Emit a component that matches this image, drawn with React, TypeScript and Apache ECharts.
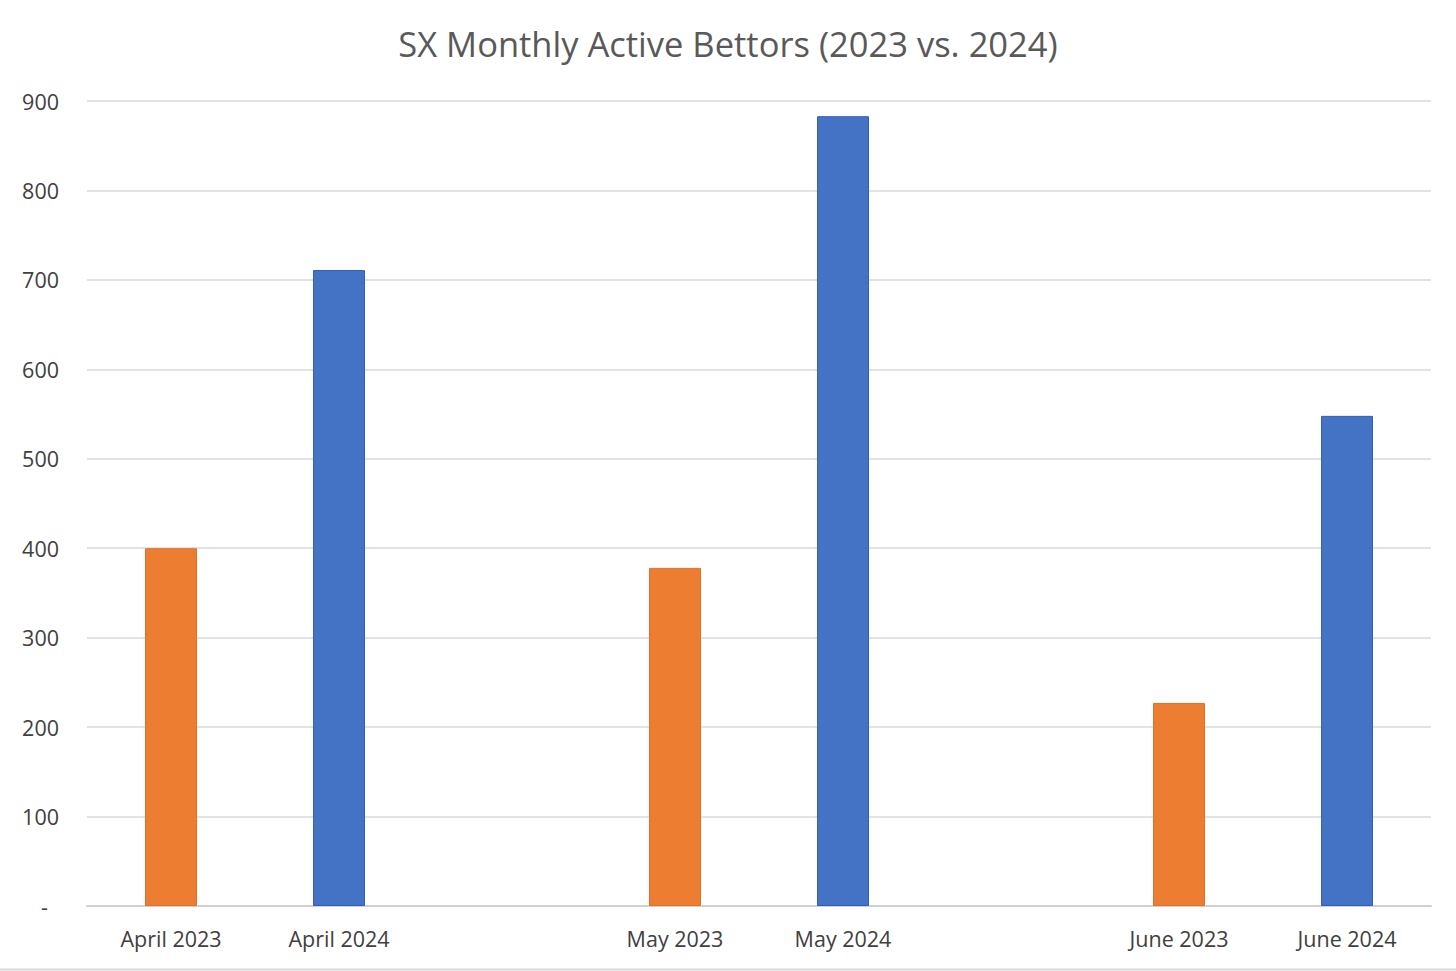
import React, { useEffect, useRef } from "react";
import * as echarts from "echarts";

const categories = ["April 2023", "April 2024", "", "May 2023", "May 2024", "", "June 2023", "June 2024"];
const years = ["2023", "2024", "", "2023", "2024", "", "2023", "2024"];
const values: (number | null)[] = [400, 711, null, 378, 883, null, 227, 548];
const yTicks = [0, 100, 200, 300, 400, 500, 600, 700, 800, 900];
const yearColors: Record<string, string> = { "2023": "#ED7D31", "2024": "#4472C4" };
const yearBorders: Record<string, string> = { "2023": "#E0712A", "2024": "#2F5FC0" };

export default function App() {
  const ref = useRef<HTMLDivElement>(null);
  useEffect(() => {
    document.body.style.margin = "0";
    const chart = echarts.init(ref.current!, null, { renderer: "svg" });
    const font = "'Open Sans', 'Noto Sans', sans-serif";
    chart.setOption({
      animation: false,
      backgroundColor: "#ffffff",
      title: {
        text: "SX Monthly Active Bettors (2023 vs. 2024)",
        left: "center",
        top: 21,
        textStyle: { fontFamily: font, fontSize: 34.5, fontWeight: "normal", color: "#595959" },
      },
      grid: { left: 87, right: 25, top: 101, bottom: 65, containLabel: false },
      xAxis: {
        type: "category",
        data: categories,
        axisLine: { lineStyle: { color: "#d0d0d0", width: 2 } },
        axisTick: { show: false },
        axisLabel: { fontFamily: font, fontSize: 21.5, color: "#404040", margin: 21, interval: 0 },
      },
      yAxis: {
        type: "value",
        min: yTicks[0],
        max: yTicks[yTicks.length - 1],
        interval: 100,
        axisLine: { show: false },
        axisTick: { show: false },
        splitLine: { lineStyle: { color: "#d9d9d9", width: 1.5 } },
        axisLabel: {
          fontFamily: font,
          fontSize: 21.5,
          color: "#404040",
          margin: 28,
          formatter: (v: number) => (v === 0 ? "-  " : String(v)),
        },
      },
      series: [
        {
          type: "bar",
          barWidth: 52,
          data: values.map((v, i) =>
            v === null
              ? null
              : {
                  value: v,
                  itemStyle: { color: yearColors[years[i]], borderColor: yearBorders[years[i]], borderWidth: 1 },
                }
          ),
        },
      ],
      graphic: [
        { type: "line", shape: { x1: 0, y1: 969.5, x2: 1456, y2: 969.5 }, style: { stroke: "#d9d9d9", lineWidth: 2 } },
      ],
    });
    return () => chart.dispose();
  }, []);
  return <div ref={ref} style={{ width: 1456, height: 971 }} />;
}
